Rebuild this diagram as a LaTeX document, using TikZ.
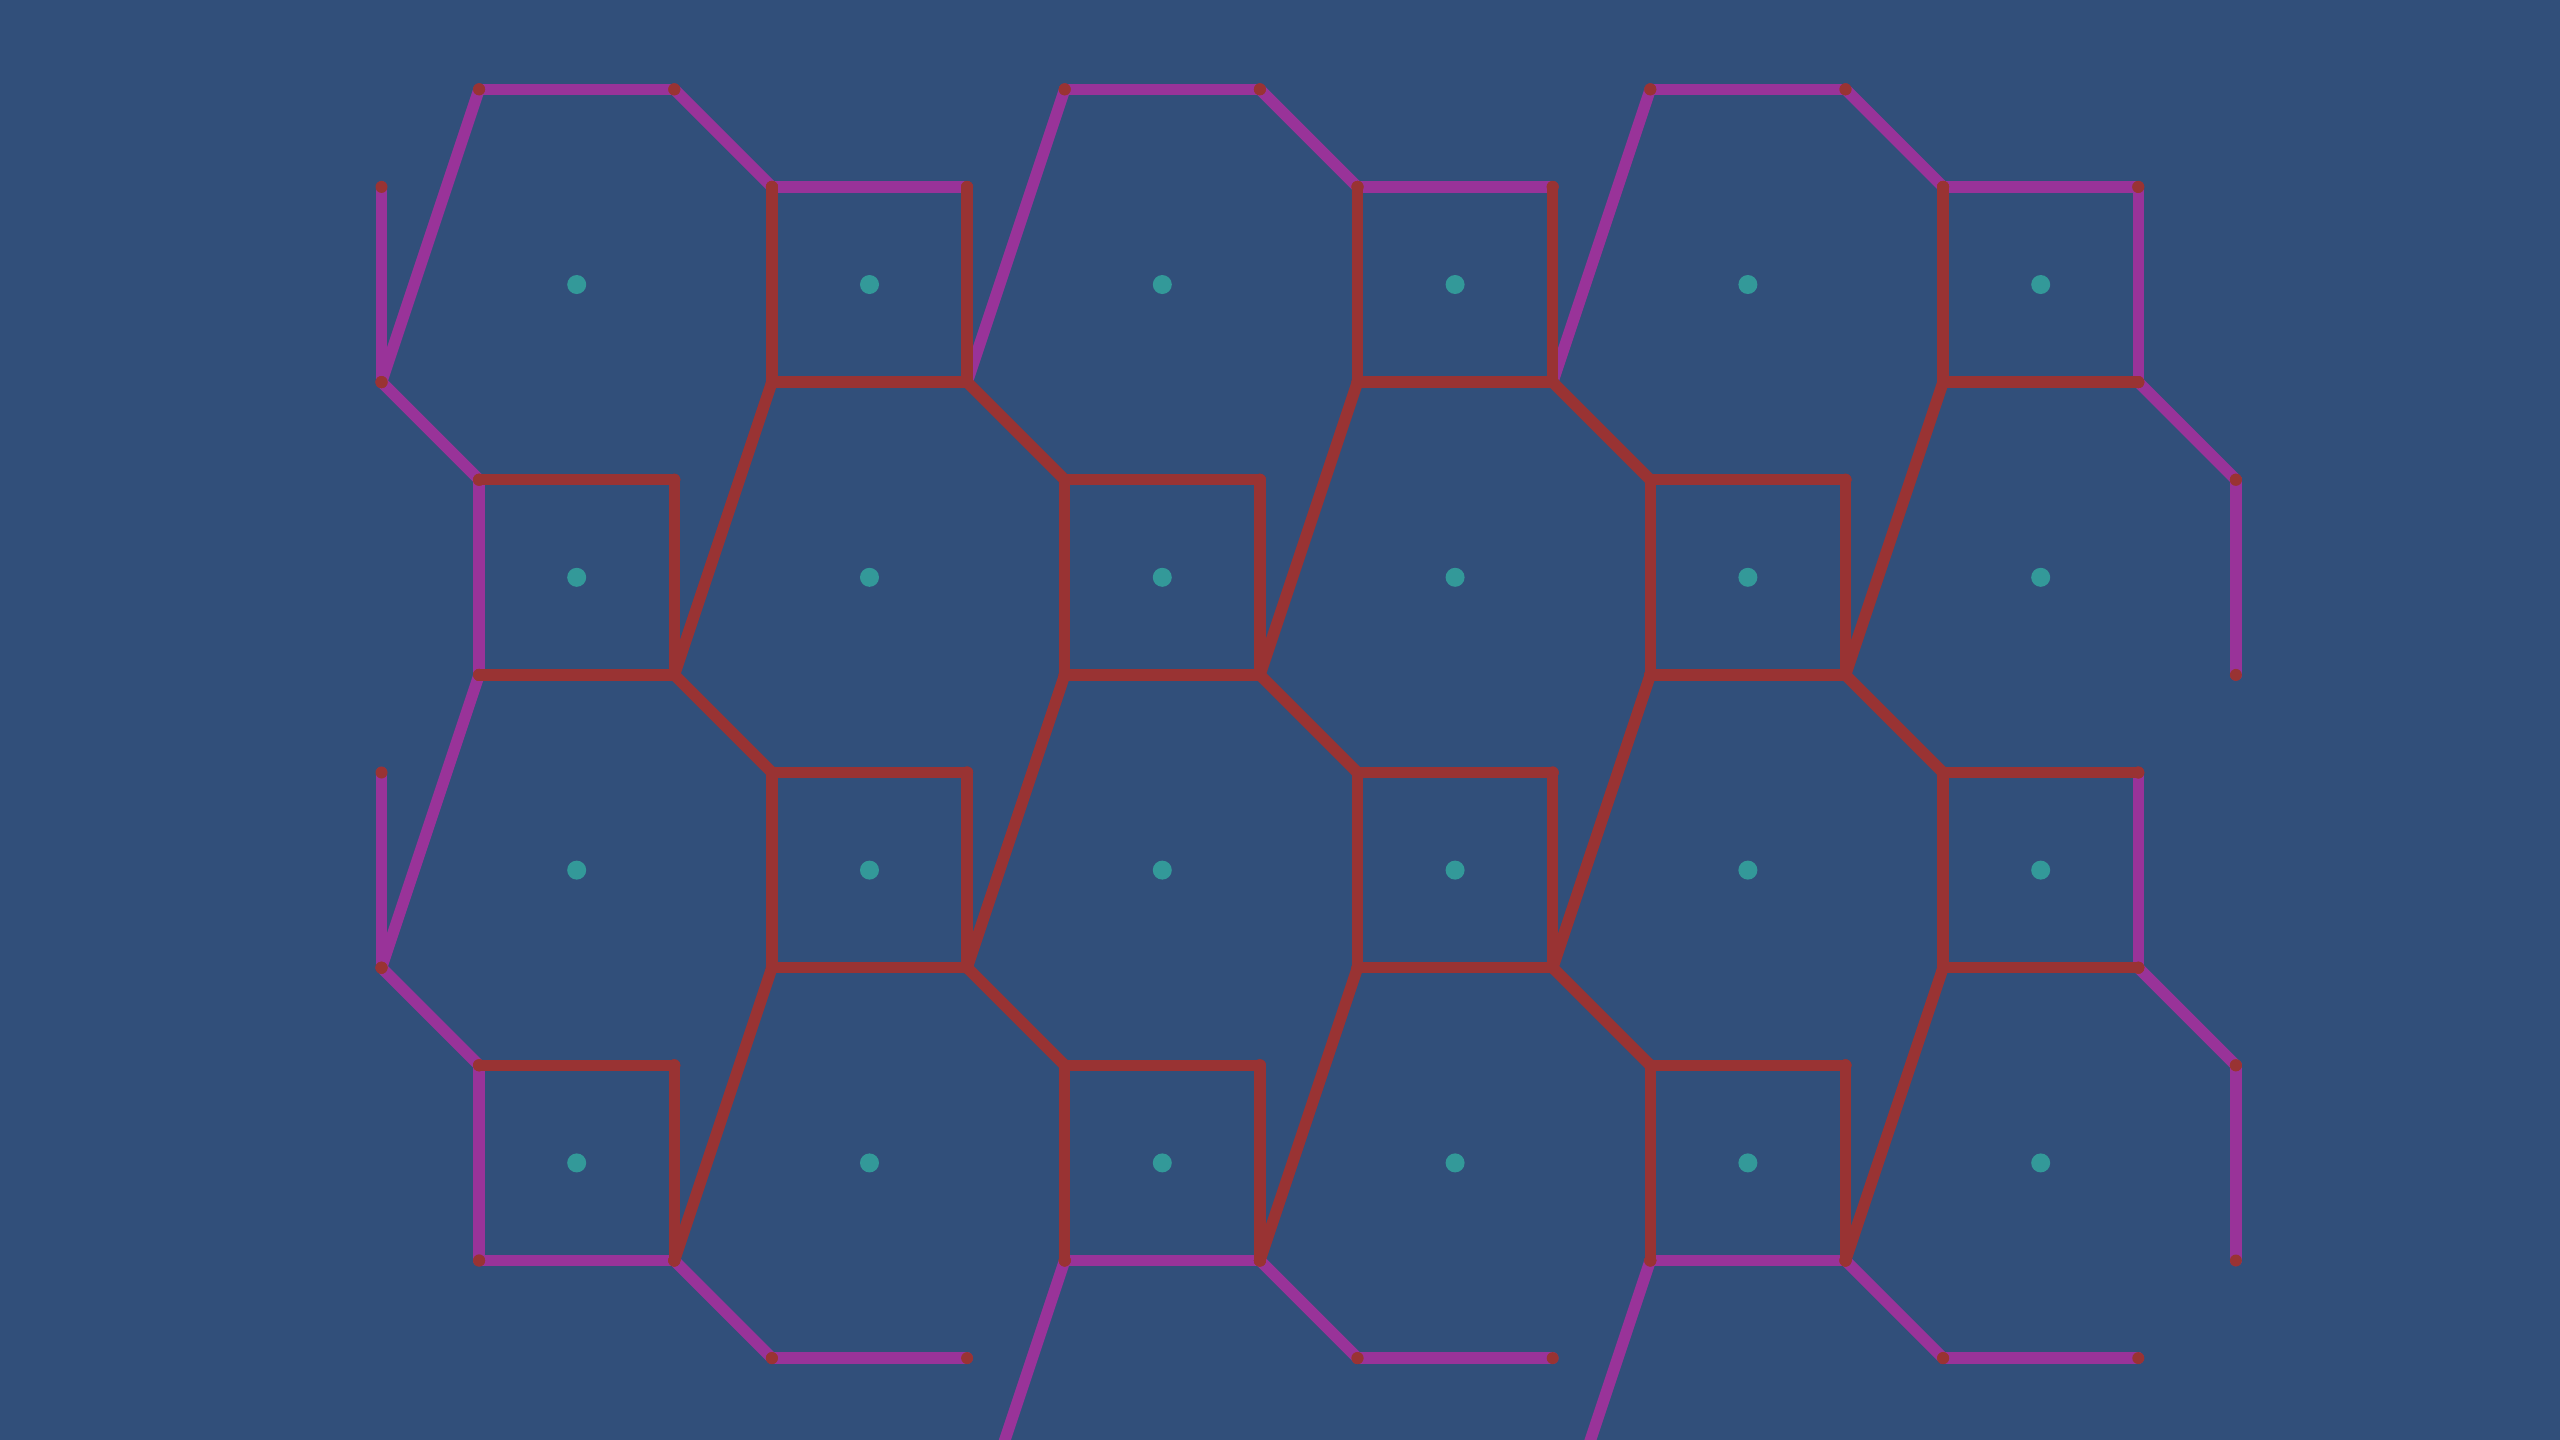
\documentclass[tikz,border=0pt]{standalone}
\definecolor{bg}{RGB}{49,79,122}
\definecolor{edgered}{RGB}{153,51,51}
\definecolor{edgepurple}{RGB}{153,51,153}
\definecolor{siteteal}{RGB}{51,153,153}
\begin{document}
\begin{tikzpicture}[x=0.976cm,y=-0.976cm,
  pedge/.style={draw=edgepurple,line width=0.115cm,line cap=round},
  redge/.style={draw=edgered,line width=0.115cm,line cap=round},
  vdot/.style={fill=edgered},
  site/.style={circle,fill=siteteal,inner sep=0pt,minimum size=0.19cm}]
\fill[bg] (-5.909,-2.915) rectangle (20.321,11.839);
\useasboundingbox (-5.909,-2.915) rectangle (20.321,11.839);
\clip (-5.909,-2.915) rectangle (20.321,11.839);
% lattice vertices
\foreach \a in {-5,...,20}{
  \foreach \b in {-3,...,13}{
    \coordinate (v\a x\b) at (\a,\b);
  }
}
\def\purplelist{-1/-2/1/-2, 5/-2/7/-2, 11/-2/13/-2,
  1/-2/2/-1, 7/-2/8/-1, 13/-2/14/-1,
  -1/-2/-2/1, 5/-2/4/1, 11/-2/10/1,
  2/-1/4/-1, 8/-1/10/-1, 14/-1/16/-1,
  16/-1/16/1, -2/-1/-2/1,
  16/1/17/2, -2/1/-1/2,
  -1/2/-1/4, 17/2/17/4, -1/4/-2/7,
  16/5/16/7, -2/5/-2/7, 16/7/17/8, -2/7/-1/8,
  -1/8/-1/10, -1/10/1/10, 5/10/7/10, 11/10/13/10,
  17/8/17/10, 1/10/2/11, 7/10/8/11, 13/10/14/11,
  5/10/4/13, 11/10/10/13,
  2/11/4/11, 8/11/10/11, 14/11/16/11}
\def\redlist{2/-1/2/1, 8/-1/8/1, 14/-1/14/1,
  4/-1/4/1, 10/-1/10/1,
  2/1/4/1, 8/1/10/1, 14/1/16/1,
  4/1/5/2, 10/1/11/2,
  2/1/1/4, 8/1/7/4, 14/1/13/4,
  -1/2/1/2, 5/2/7/2, 11/2/13/2,
  5/2/5/4, 11/2/11/4,
  1/2/1/4, 7/2/7/4, 13/2/13/4,
  -1/4/1/4, 5/4/7/4, 11/4/13/4,
  1/4/2/5, 7/4/8/5, 13/4/14/5,
  5/4/4/7, 11/4/10/7,
  2/5/4/5, 8/5/10/5, 14/5/16/5,
  2/5/2/7, 8/5/8/7, 14/5/14/7,
  4/5/4/7, 10/5/10/7,
  2/7/4/7, 8/7/10/7, 14/7/16/7,
  4/7/5/8, 10/7/11/8,
  2/7/1/10, 8/7/7/10, 14/7/13/10,
  -1/8/1/8, 5/8/7/8, 11/8/13/8,
  5/8/5/10, 11/8/11/10,
  1/8/1/10, 7/8/7/10, 13/8/13/10}
% boundary edges
\foreach \a/\b/\c/\d in \purplelist {
  \draw[pedge] (v\a x\b) -- (v\c x\d);
}
% interior edges
\foreach \a/\b/\c/\d in \redlist {
  \draw[redge] (v\a x\b) -- (v\c x\d);
}
% vertex markers
\foreach \a/\b/\c/\d in \purplelist {
  \fill[vdot] (v\a x\b) circle[radius=0.06cm];
  \fill[vdot] (v\c x\d) circle[radius=0.06cm];
}
\foreach \a/\b/\c/\d in \redlist {
  \fill[vdot] (v\a x\b) circle[radius=0.06cm];
  \fill[vdot] (v\c x\d) circle[radius=0.06cm];
}
% sites
\foreach \i in {0,...,5}{
  \foreach \j in {0,...,3}{
    \node[site] (s\i\j) at (3*\i,3*\j) {};
  }
}
\end{tikzpicture}
\end{document}
